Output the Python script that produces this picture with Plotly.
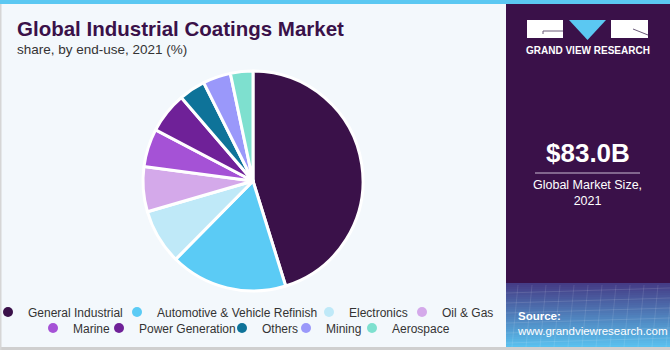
import plotly.graph_objects as go

# ---- data ----
categories = ["General Industrial", "Automotive & Vehicle Refinish", "Electronics", "Oil & Gas",
              "Marine", "Power Generation", "Others", "Mining", "Aerospace"]
shares = [45.2, 17.2, 8.1, 6.6, 5.6, 6.0, 3.9, 4.1, 3.3]
colors = ["#3a1149", "#5bcbf5", "#bfe9f8", "#d4a9ea", "#a552d6",
          "#6f2198", "#0e7399", "#9a98fa", "#7ee0cf"]
title_text = "Global Industrial Coatings Market"
subtitle_text = "share, by end-use, 2021 (%)"
market_size = "$83.0B"
market_label = "Global Market Size,<br>2021"

# ---- layout (pixel positions of legend text starts) ----
W, H = 670, 350
cx, cy, r = 253, 181, 110
legend_pos = [(28, 312), (157, 312), (349, 312), (442, 312),
              (73, 328), (139, 328), (262, 328), (326, 328), (392, 328)]
FONT = "Liberation Sans"


def px(x):
    return x / W


def py(y):
    return 1 - y / H


fig = go.Figure()
fig.add_trace(go.Pie(
    labels=categories, values=shares, sort=False, direction="clockwise", rotation=0,
    marker=dict(colors=colors, line=dict(color="white", width=3)),
    textinfo="none", hoverinfo="label+percent", showlegend=False,
    domain=dict(x=[px(cx - r), px(cx + r)], y=[py(cy + r), py(cy - r)]),
))
legends = {}
for i, (c, col) in enumerate(zip(categories, colors)):
    key = "legend" if i == 0 else "legend%d" % (i + 1)
    fig.add_trace(go.Scatter(
        x=[None], y=[None], mode="markers", name=c,
        marker=dict(color=col, size=10),
        legend=key,
    ))
    lx, ly = legend_pos[i]
    legends[key] = dict(orientation="h", x=px(lx - 40), xanchor="left", y=py(ly), yanchor="middle",
                        bgcolor="rgba(0,0,0,0)", borderwidth=0,
                        font=dict(size=12, color="#333333", family=FONT),
                        itemclick=False, itemdoubleclick=False)

shapes = []
# right panel
shapes.append(dict(type="rect", xref="paper", yref="paper", x0=px(506), x1=px(670), y0=py(283), y1=py(0),
                   fillcolor="#3a1149", line=dict(width=0), layer="below"))
# gradient bottom of panel
n = 32
top, bot = 283, 347
c0 = (0x45, 0x3c, 0x86)
c1 = (0x5a, 0xc0, 0xee)
for k in range(n):
    t = k / (n - 1)
    col = "rgb(%d,%d,%d)" % tuple(int(a + (b - a) * t) for a, b in zip(c0, c1))
    y0 = top + (bot - top) * k / n
    y1 = top + (bot - top) * (k + 1) / n + 0.5
    shapes.append(dict(type="rect", xref="paper", yref="paper", x0=px(506), x1=px(670), y0=py(y1), y1=py(y0),
                       fillcolor=col, line=dict(width=0), layer="below"))
# faint mesh lines
for k in range(6):
    yy = 290 + k * 10
    shapes.append(dict(type="line", xref="paper", yref="paper", x0=px(506), x1=px(670), y0=py(yy + 3), y1=py(yy - 2),
                       line=dict(color="rgba(255,255,255,0.12)", width=1), layer="below"))
for k in range(12):
    xx = 512 + k * 14
    shapes.append(dict(type="line", xref="paper", yref="paper", x0=px(xx), x1=px(xx + 6), y0=py(347), y1=py(285),
                       line=dict(color="rgba(255,255,255,0.10)", width=1), layer="below"))
# top blue bar
shapes.append(dict(type="rect", xref="paper", yref="paper", x0=0, x1=1, y0=py(4), y1=1,
                   fillcolor="#5bc8f2", line=dict(width=0)))
# borders
shapes.append(dict(type="rect", xref="paper", yref="paper", x0=0, x1=1, y0=0, y1=py(347),
                   fillcolor="#cfcfcf", line=dict(width=0)))
shapes.append(dict(type="rect", xref="paper", yref="paper", x0=0, x1=px(1.5), y0=0, y1=py(4),
                   fillcolor="#d6d6d6", line=dict(width=0)))
# logo
shapes.append(dict(type="rect", xref="paper", yref="paper", x0=px(527), x1=px(563), y0=py(38), y1=py(20),
                   fillcolor="white", line=dict(width=0)))
shapes.append(dict(type="path", xref="paper", yref="paper",
                   path="M %f,%f L %f,%f L %f,%f Z" % (px(569), py(20), px(606), py(20), px(587.5), py(40)),
                   fillcolor="#5bc8f2", line=dict(width=0)))
shapes.append(dict(type="rect", xref="paper", yref="paper", x0=px(611), x1=px(648), y0=py(38), y1=py(20),
                   fillcolor="white", line=dict(width=0)))
shapes.append(dict(type="line", xref="paper", yref="paper", x0=px(543), x1=px(563), y0=py(31), y1=py(31),
                   line=dict(color="#6a5a78", width=1)))
shapes.append(dict(type="line", xref="paper", yref="paper", x0=px(543), x1=px(543), y0=py(31), y1=py(34),
                   line=dict(color="#6a5a78", width=1)))
shapes.append(dict(type="line", xref="paper", yref="paper", x0=px(633), x1=px(648), y0=py(29), y1=py(35),
                   line=dict(color="#6a5a78", width=1)))
# separator line under market size
shapes.append(dict(type="line", xref="paper", yref="paper", x0=px(535), x1=px(640), y0=py(173), y1=py(173),
                   line=dict(color="#c9bcd3", width=1)))

annotations = [
    dict(text="<b>" + title_text + "</b>", x=px(15), y=py(29), xanchor="left", yanchor="middle",
         font=dict(size=20.5, color="#3a1149", family=FONT)),
    dict(text=subtitle_text, x=px(15), y=py(50), xanchor="left", yanchor="middle",
         font=dict(size=13.5, color="#333333", family=FONT)),
    dict(text="<b>GRAND VIEW RESEARCH</b>", x=px(587.5), y=py(51), xanchor="center", yanchor="middle",
         font=dict(size=10, color="white", family=FONT)),
    dict(text="<b>" + market_size + "</b>", x=px(587.5), y=py(153), xanchor="center", yanchor="middle",
         font=dict(size=26, color="white", family=FONT)),
    dict(text=market_label, x=px(587.5), y=py(193), xanchor="center", yanchor="middle",
         font=dict(size=12.5, color="white", family=FONT)),
    dict(text="<b>Source:</b><br>www.grandviewresearch.com", x=px(515), y=py(323), xanchor="left",
         yanchor="middle", align="left", font=dict(size=11.5, color="white", family=FONT)),
]
for a in annotations:
    a.update(xref="paper", yref="paper", showarrow=False)

fig.update_layout(
    width=W, height=H,
    margin=dict(l=0, r=0, t=0, b=0, pad=0, autoexpand=False),
    paper_bgcolor="#f3f8fc", plot_bgcolor="#f3f8fc",
    xaxis=dict(visible=False), yaxis=dict(visible=False),
    shapes=shapes, annotations=annotations,
    **legends,
)

fig.write_html("out.html")
